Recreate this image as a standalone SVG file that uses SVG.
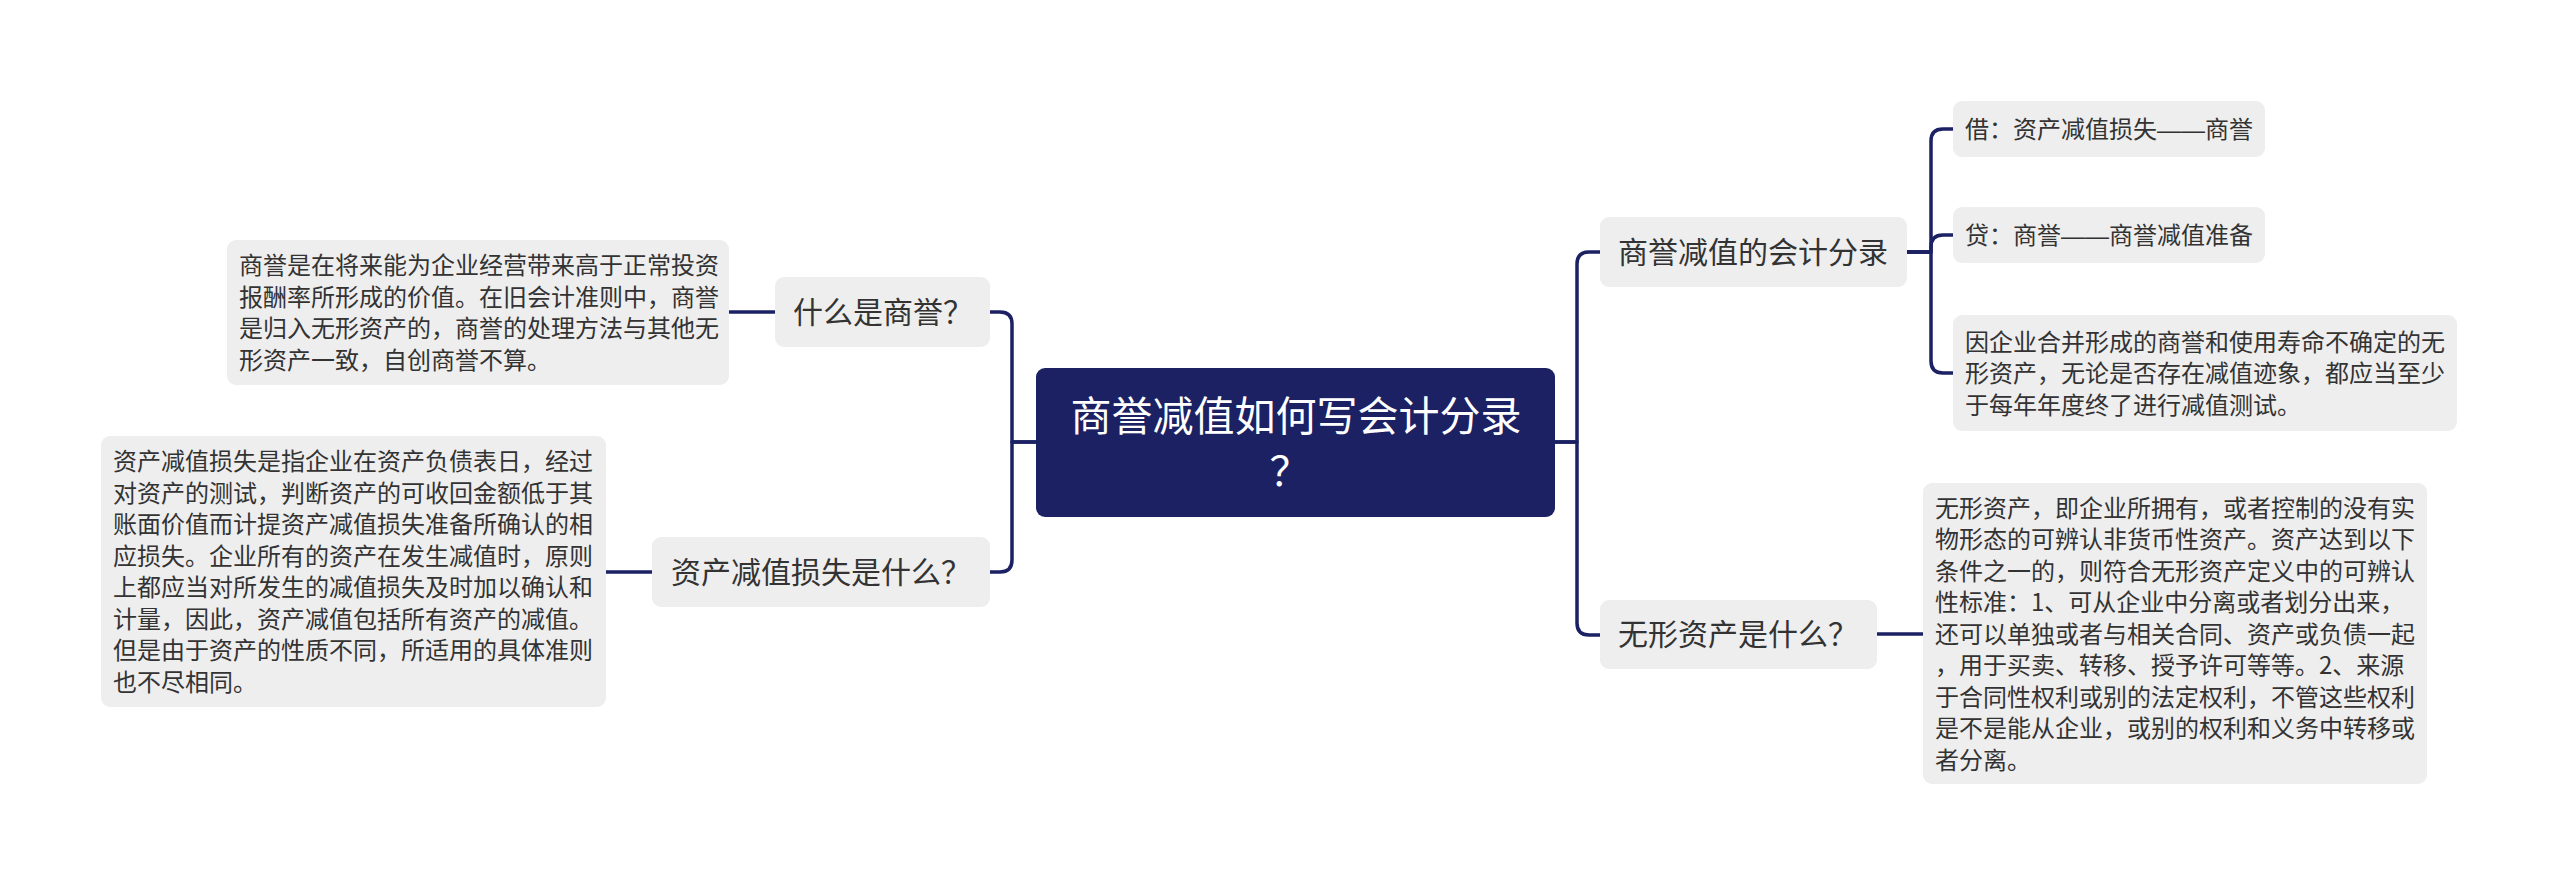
<svg xmlns="http://www.w3.org/2000/svg" width="2560" height="887" viewBox="0 0 2560 887">
<style>
text{font-family:"Noto Sans CJK SC","Liberation Sans",sans-serif;}
.dash{font-family:"Liberation Sans","Noto Sans CJK SC",sans-serif;}
.box{fill:#eeeeee;}
.root{fill:#1b2163;}
.rt{fill:#ffffff;font-size:41px;}
.t1{fill:#333333;font-size:30px;}
.t2{fill:#333333;font-size:24px;}
.c{fill:none;stroke:#1b2163;stroke-width:3.5;stroke-linecap:round;stroke-linejoin:round;}
</style>
<rect x="0" y="0" width="2560" height="887" fill="#ffffff"/>
<g id="connectors">
<path class="c" d="M1036,442 H1012 V324 Q1012,312 1000,312 H990"/>
<path class="c" d="M1036,442 H1012 V560 Q1012,572 1000,572 H990"/>
<path class="c" d="M775,312 H729"/>
<path class="c" d="M652,572 H606"/>
<path class="c" d="M1555,442 H1577 V264 Q1577,252 1589,252 H1600"/>
<path class="c" d="M1555,442 H1577 V623 Q1577,635 1589,635 H1600"/>
<path class="c" d="M1907,252 H1931 V141 Q1931,129 1943,129 H1953"/>
<path class="c" d="M1907,252 H1931 V247 Q1931,235 1943,235 H1953"/>
<path class="c" d="M1907,252 H1931 V361 Q1931,373 1943,373 H1953"/>
<path class="c" d="M1877,634 H1923"/>
</g>
<g id="root">
<rect class="root" x="1036" y="368" width="519" height="149" rx="9"/>
<text class="rt" x="1296" y="431" text-anchor="middle">商誉减值如何写会计分录</text>
<text class="rt" x="1290" y="486" text-anchor="middle">？</text>
</g>
<g id="n-what-goodwill">
<rect class="box" x="775" y="277" width="215" height="70" rx="9"/>
<text class="t1" x="793" y="323">什么是商誉？</text>
</g>
<g id="n-goodwill-desc">
<rect class="box" x="227" y="240" width="502" height="145" rx="9"/>
<text class="t2" x="239" y="274">商誉是在将来能为企业经营带来高于正常投资</text>
<text class="t2" x="239" y="305.5">报酬率所形成的价值。在旧会计准则中，商誉</text>
<text class="t2" x="239" y="337">是归入无形资产的，商誉的处理方法与其他无</text>
<text class="t2" x="239" y="368.5">形资产一致，自创商誉不算。</text>
</g>
<g id="n-impairment-loss">
<rect class="box" x="652" y="537" width="338" height="70" rx="9"/>
<text class="t1" x="671" y="583">资产减值损失是什么？</text>
</g>
<g id="n-impairment-desc">
<rect class="box" x="101" y="436" width="505" height="271" rx="9"/>
<text class="t2" x="113" y="470.25">资产减值损失是指企业在资产负债表日，经过</text>
<text class="t2" x="113" y="501.75">对资产的测试，判断资产的可收回金额低于其</text>
<text class="t2" x="113" y="533.25">账面价值而计提资产减值损失准备所确认的相</text>
<text class="t2" x="113" y="564.75">应损失。企业所有的资产在发生减值时，原则</text>
<text class="t2" x="113" y="596.25">上都应当对所发生的减值损失及时加以确认和</text>
<text class="t2" x="113" y="627.75">计量，因此，资产减值包括所有资产的减值。</text>
<text class="t2" x="113" y="659.25">但是由于资产的性质不同，所适用的具体准则</text>
<text class="t2" x="113" y="690.75">也不尽相同。</text>
</g>
<g id="n-entries">
<rect class="box" x="1600" y="217" width="307" height="70" rx="9"/>
<text class="t1" x="1618" y="263">商誉减值的会计分录</text>
</g>
<g id="n-debit">
<rect class="box" x="1953" y="101" width="312" height="56" rx="9"/>
<text class="t2" x="1965" y="138">借：资产减值损失<tspan class="dash">——</tspan>商誉</text>
</g>
<g id="n-credit">
<rect class="box" x="1953" y="207" width="312" height="56" rx="9"/>
<text class="t2" x="1965" y="244">贷：商誉<tspan class="dash">——</tspan>商誉减值准备</text>
</g>
<g id="n-annual-test">
<rect class="box" x="1953" y="315" width="504" height="116" rx="9"/>
<text class="t2" x="1965" y="350.5">因企业合并形成的商誉和使用寿命不确定的无</text>
<text class="t2" x="1965" y="382">形资产，无论是否存在减值迹象，都应当至少</text>
<text class="t2" x="1965" y="413.5">于每年年度终了进行减值测试。</text>
</g>
<g id="n-intangible">
<rect class="box" x="1600" y="600" width="277" height="69" rx="9"/>
<text class="t1" x="1618" y="645">无形资产是什么？</text>
</g>
<g id="n-intangible-desc">
<rect class="box" x="1923" y="483" width="504" height="301" rx="9"/>
<text class="t2" x="1935" y="516.5">无形资产，即企业所拥有，或者控制的没有实</text>
<text class="t2" x="1935" y="548">物形态的可辨认非货币性资产。资产达到以下</text>
<text class="t2" x="1935" y="579.5">条件之一的，则符合无形资产定义中的可辨认</text>
<text class="t2" x="1935" y="611">性标准：1、可从企业中分离或者划分出来，</text>
<text class="t2" x="1935" y="642.5">还可以单独或者与相关合同、资产或负债一起</text>
<text class="t2" x="1935" y="674">，用于买卖、转移、授予许可等等。2、来源</text>
<text class="t2" x="1935" y="705.5">于合同性权利或别的法定权利，不管这些权利</text>
<text class="t2" x="1935" y="737">是不是能从企业，或别的权利和义务中转移或</text>
<text class="t2" x="1935" y="768.5">者分离。</text>
</g>
</svg>
